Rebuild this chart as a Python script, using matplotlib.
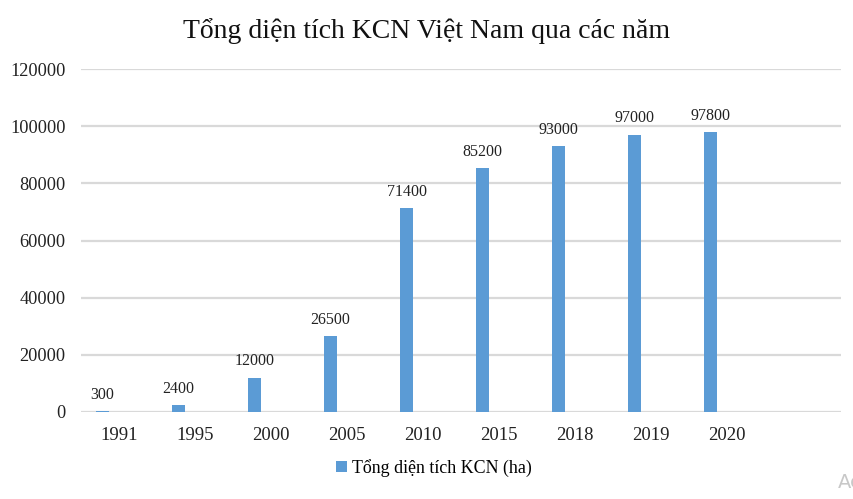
import matplotlib
matplotlib.use("Agg")
import matplotlib.pyplot as plt
import numpy as np

categories = ["1991", "1995", "2000", "2005", "2010", "2015", "2018", "2019", "2020", ""]
values = [300, 2400, 12000, 26500, 71400, 85200, 93000, 97000, 97800, None]
series_name = "Tổng diện tích KCN (ha)"
title = "Tổng diện tích KCN Việt Nam qua các năm"
yticks = [0, 20000, 40000, 60000, 80000, 100000, 120000]

plt.rcParams['font.family'] = ['Liberation Serif', 'DejaVu Serif']

fig = plt.figure(figsize=(8.54, 4.99), dpi=100)
ax = fig.add_axes([81/854, 1-412/499, 760/854, 343/499])

bar_color = "#5B9BD5"
x = np.arange(len(categories))
xs = [xi - 0.217 for xi, v in zip(x, values) if v is not None]
vs = [v for v in values if v is not None]
bars = ax.bar(xs, vs, width=0.17, color=bar_color, label=series_name, zorder=3)
for b, v in zip(bars, vs):
    ax.annotate(str(v), (b.get_x() + b.get_width()/2, v), xytext=(0, 6),
                textcoords="offset points", ha="center", va="bottom",
                fontsize=11.5, color="#222222")

ax.set_xlim(-0.5, len(categories) - 0.5)
ax.set_ylim(0, 120000)
ax.set_yticks(yticks)
ax.set_yticklabels([str(t) for t in yticks])
ax.set_xticks(x)
ax.set_xticklabels(categories)
ax.tick_params(axis='y', length=0, pad=11, labelsize=13.2, labelcolor="#222222")
ax.tick_params(axis='x', length=0, pad=11, labelsize=13.5, labelcolor="#222222")
ax.grid(axis='y', color="#D9D9D9", linewidth=1.6, zorder=0)
for s in ax.spines.values():
    s.set_visible(False)

fig.text(0.5, 1-31/499, title, ha="center", va="center", fontsize=20, color="#111111")

leg = fig.legend(handles=[bars], labels=[series_name], loc="center",
                 bbox_to_anchor=(434/854, 1-468/499), frameon=False,
                 fontsize=12.9, handlelength=0.6, handleheight=0.6,
                 handletextpad=0.3)

fig.text(838/854, 1-482/499, "Ac", ha="left", va="center", fontsize=14,
         color="#C8C8C8", family="DejaVu Sans")

fig.savefig("out.png", dpi=100)
